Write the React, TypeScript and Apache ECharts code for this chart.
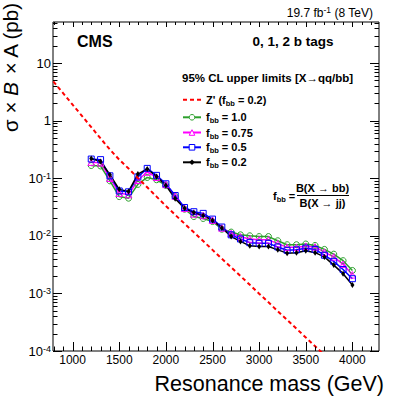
import React, { useEffect, useRef } from 'react';
import * as echarts from 'echarts';

const FONT = '"Liberation Sans", Arial, Helvetica, sans-serif';

// Resonance mass points (GeV)
const masses = [1200, 1300, 1400, 1500, 1600, 1700, 1800, 1900, 2000, 2100, 2200, 2300, 2400, 2500, 2600, 2700, 2800, 2900, 3000, 3100, 3200, 3300, 3400, 3500, 3600, 3700, 3800, 3900, 4000];

// 95% CL upper limits (pb)
const limitFbb10 = [0.166, 0.163, 0.090, 0.048, 0.045, 0.078, 0.103, 0.094, 0.075, 0.048, 0.029, 0.0216, 0.020, 0.0177, 0.013, 0.0116, 0.0104, 0.0100, 0.0097, 0.0097, 0.0082, 0.0070, 0.0070, 0.0072, 0.0068, 0.0058, 0.0048, 0.0037, 0.0025];
const limitFbb075 = [0.19, 0.185, 0.10, 0.055, 0.052, 0.092, 0.128, 0.104, 0.078, 0.049, 0.030, 0.024, 0.0225, 0.0187, 0.0137, 0.0110, 0.0096, 0.0088, 0.0085, 0.0085, 0.0073, 0.0063, 0.0063, 0.0066, 0.0064, 0.0052, 0.0043, 0.0032, 0.0021];
const limitFbb05 = [0.215, 0.21, 0.11, 0.060, 0.058, 0.105, 0.148, 0.112, 0.080, 0.050, 0.031, 0.0262, 0.0245, 0.0195, 0.0142, 0.0104, 0.0088, 0.0076, 0.0074, 0.0074, 0.0064, 0.0056, 0.0057, 0.0061, 0.0058, 0.0046, 0.0036, 0.0026, 0.0018];
const limitFbb02 = [0.22, 0.195, 0.115, 0.064, 0.059, 0.118, 0.145, 0.107, 0.075, 0.044, 0.030, 0.0254, 0.0225, 0.0185, 0.0137, 0.0097, 0.0080, 0.0067, 0.0065, 0.0065, 0.0057, 0.0050, 0.0051, 0.0055, 0.0051, 0.0043, 0.0031, 0.0022, 0.0014];

// Z' theory cross section (pb)
const zpMasses = [700, 800, 900, 1000, 1100, 1200, 1300, 1400, 1500, 1600, 1700, 1800, 1900, 2000, 2100, 2200, 2300, 2400, 2500, 2600, 2700, 2800, 2900, 3000, 3100, 3200, 3300, 3400, 3500, 3600, 3700];
const zpXsec = [7.4, 4.66, 2.97, 1.89, 1.21, 0.77, 0.49, 0.315, 0.21, 0.147, 0.101, 0.0695, 0.0479, 0.033, 0.0231, 0.0163, 0.0115, 0.0081, 0.0057, 0.0040, 0.00283, 0.0020, 0.00141, 0.00099, 0.0007, 0.00049, 0.000347, 0.000244, 0.000172, 0.000121, 0.000085];

// Axis ticks
const xMajorTicks = [1000, 1500, 2000, 2500, 3000, 3500, 4000];
const xMinorTicks = [800, 900, 1100, 1200, 1300, 1400, 1600, 1700, 1800, 1900, 2100, 2200, 2300, 2400, 2600, 2700, 2800, 2900, 3100, 3200, 3300, 3400, 3600, 3700, 3800, 3900, 4100, 4200];
const yDecades = [0.0001, 0.001, 0.01, 0.1, 1, 10];

const X_MIN = 790;
const X_MAX = 4285;
const Y_MIN = 0.0001;
const Y_MAX = 51.5;

const NAME_ZP = "Z' (f_bb = 0.2)";
const NAME_10 = 'f_bb = 1.0';
const NAME_075 = 'f_bb = 0.75';
const NAME_05 = 'f_bb = 0.5';
const NAME_02 = 'f_bb = 0.2';

const COLORS: Record<string, string> = {
  [NAME_ZP]: '#ff0000',
  [NAME_10]: '#2ca02c',
  [NAME_075]: '#ff00ff',
  [NAME_05]: '#0000ff',
  [NAME_02]: '#000000',
};

const legendRows = [
  { name: NAME_ZP, center: 101.7 },
  { name: NAME_10, center: 119.3 },
  { name: NAME_075, center: 134.5 },
  { name: NAME_05, center: 149.3 },
  { name: NAME_02, center: 164.3 },
];

function legendFormatter(name: string) {
  if (name === NAME_ZP) return "{t|Z' (f}{s|bb}{t| = 0.2)}";
  const v = name.split('= ')[1];
  return `{t|f}{s|bb}{t| = ${v}}`;
}

function legendItemStyle(name: string) {
  const c = COLORS[name];
  if (name === NAME_ZP) return { color: 'rgba(0,0,0,0)', borderColor: 'rgba(0,0,0,0)', borderWidth: 0 };
  if (name === NAME_02) return { color: c, borderColor: c, borderWidth: 0 };
  return { color: '#ffffff', borderColor: c, borderWidth: 1 };
}

function limitSeries(name: string, values: number[], symbol: string, size: any, filled: boolean) {
  const color = COLORS[name];
  return {
    type: 'line',
    name,
    data: masses.map((m, i) => [m, values[i]]),
    symbol,
    symbolSize: size,
    showSymbol: true,
    lineStyle: { color, width: 1.5 },
    itemStyle: filled
      ? { color, borderColor: color, borderWidth: 0 }
      : { color: 'rgba(255,255,255,0)', borderColor: color, borderWidth: 1 },
    z: 3,
  };
}

export default function App() {
  const ref = useRef<HTMLDivElement>(null);

  useEffect(() => {
    const chart = echarts.init(ref.current!, null, { renderer: 'svg' });

    const tickSeries = {
      type: 'custom',
      coordinateSystem: 'cartesian2d',
      silent: true,
      clip: false,
      z: 20,
      data: [[X_MIN, Y_MIN]],
      renderItem: (_params: any, api: any) => {
        const children: any[] = [];
        const bl = api.coord([X_MIN, Y_MIN]);
        const tr = api.coord([X_MAX, Y_MAX]);
        const left = bl[0], bottom = bl[1], right = tr[0], top = tr[1];
        const st = { stroke: '#000', lineWidth: 1 };
        const ln = (x1: number, y1: number, x2: number, y2: number) =>
          children.push({ type: 'line', shape: { x1, y1, x2, y2 }, style: st });
        xMajorTicks.forEach((v) => {
          const x = Math.round(api.coord([v, Y_MIN])[0]) + 0.5;
          ln(x, bottom, x, bottom - 9);
          ln(x, top, x, top + 5);
        });
        xMinorTicks.forEach((v) => {
          const x = Math.round(api.coord([v, Y_MIN])[0]) + 0.5;
          ln(x, bottom, x, bottom - 4.5);
          ln(x, top, x, top + 3);
        });
        yDecades.forEach((d) => {
          const y = Math.round(api.coord([X_MIN, d])[1]) + 0.5;
          ln(left, y, left + 9, y);
          ln(right, y, right - 9, y);
          for (let k = 2; k <= 9; k++) {
            const v = k * d;
            if (v > Y_MAX) continue;
            const yy = Math.round(api.coord([X_MIN, v])[1]) + 0.5;
            ln(left, yy, left + 4.5, yy);
            ln(right, yy, right - 4.5, yy);
          }
        });
        return { type: 'group', children };
      },
    };

    const legendRich = {
      t: { fontFamily: FONT, fontWeight: 'bold', fontSize: 11, lineHeight: 15, verticalAlign: 'middle', color: '#000' },
      s: { fontFamily: FONT, fontWeight: 'bold', fontSize: 7.5, lineHeight: 6, verticalAlign: 'bottom', color: '#000' },
    };

    const option: any = {
      animation: false,
      backgroundColor: '#fff',
      grid: {
        left: 53,
        right: 20,
        top: 22,
        bottom: 53,
        show: true,
        borderColor: '#000',
        borderWidth: 1,
        backgroundColor: 'transparent',
        containLabel: false,
      },
      xAxis: {
        type: 'value',
        min: X_MIN,
        max: X_MAX,
        splitNumber: 7,
        axisLine: { show: false },
        axisTick: { show: false },
        splitLine: { show: false },
        axisLabel: {
          showMinLabel: false,
          showMaxLabel: false,
          margin: 3,
          fontFamily: FONT,
          fontSize: 12,
          color: '#000',
          formatter: (v: number) => (v % 500 === 0 ? String(v) : ''),
        },
      },
      yAxis: {
        type: 'log',
        logBase: 10,
        min: Y_MIN,
        max: Y_MAX,
        axisLine: { show: false },
        axisTick: { show: false },
        splitLine: { show: false },
        minorTick: { show: false },
        axisLabel: {
          showMaxLabel: false,
          margin: 2,
          formatter: (v: number) => {
            const e = Math.round(Math.log10(v));
            if (e === 0) return '{b|1}';
            if (e === 1) return '{b|10}';
            return `{b|10}{s|${e}}`;
          },
          rich: {
            b: { fontFamily: FONT, fontSize: 13, color: '#000', lineHeight: 14, verticalAlign: 'middle' },
            s: { fontFamily: FONT, fontSize: 9, color: '#000', lineHeight: 6, verticalAlign: 'top' },
          },
        },
      },
      legend: legendRows.map((r) => ({
        data: [r.name],
        left: 182,
        top: r.center - 7.5,
        orient: 'vertical',
        padding: 0,
        itemWidth: 18,
        itemHeight: 7,
        itemGap: 0,
        selectedMode: false,
        formatter: legendFormatter,
        textStyle: { rich: legendRich },
        itemStyle: legendItemStyle(r.name),
      })),
      series: [
        limitSeries(NAME_10, limitFbb10, 'circle', 6, false),
        limitSeries(NAME_075, limitFbb075, 'triangle', 6.5, false),
        limitSeries(NAME_05, limitFbb05, 'rect', 6, false),
        limitSeries(NAME_02, limitFbb02, 'diamond', [4, 6], true),
        {
          type: 'line',
          name: NAME_ZP,
          data: zpMasses.map((m, i) => [m, zpXsec[i]]),
          symbol: 'none',
          showSymbol: false,
          lineStyle: { color: COLORS[NAME_ZP], width: 2, type: [4, 3] },
          itemStyle: { color: COLORS[NAME_ZP] },
          z: 5,
        },
        tickSeries,
      ],
      graphic: [
        {
          type: 'text',
          x: 373,
          y: 12.7,
          style: {
            text: '{a|19.7 fb}{s|-1}{a| (8 TeV)}',
            align: 'right',
            verticalAlign: 'middle',
            rich: {
              a: { fontFamily: FONT, fontSize: 12, fill: '#000', lineHeight: 14, verticalAlign: 'middle' },
              s: { fontFamily: FONT, fontSize: 8.5, fill: '#000', lineHeight: 6, verticalAlign: 'top' },
            },
          },
        },
        {
          type: 'text',
          x: 77,
          y: 41.7,
          style: { text: 'CMS', fontFamily: FONT, fontWeight: 'bold', fontSize: 16, fill: '#000', align: 'left', verticalAlign: 'middle' },
        },
        {
          type: 'text',
          x: 333.5,
          y: 41.7,
          style: { text: '0, 1, 2 b tags', fontFamily: FONT, fontWeight: 'bold', fontSize: 13.5, fill: '#000', align: 'right', verticalAlign: 'middle' },
        },
        {
          type: 'text',
          x: 182,
          y: 78.3,
          style: { text: '95% CL upper limits [X→qq/bb]', fontFamily: FONT, fontWeight: 'bold', fontSize: 11.5, fill: '#000', align: 'left', verticalAlign: 'middle' },
        },
        {
          type: 'text',
          x: 273,
          y: 196,
          style: {
            text: '{t|f}{s|bb}{t| =}',
            align: 'left',
            verticalAlign: 'middle',
            rich: {
              t: { fontFamily: FONT, fontWeight: 'bold', fontSize: 11, fill: '#000', lineHeight: 15, verticalAlign: 'middle' },
              s: { fontFamily: FONT, fontWeight: 'bold', fontSize: 7.5, fill: '#000', lineHeight: 6, verticalAlign: 'bottom' },
            },
          },
        },
        {
          type: 'text',
          x: 322.5,
          y: 188,
          style: { text: 'B(X → bb)', fontFamily: FONT, fontWeight: 'bold', fontSize: 11, fill: '#000', align: 'center', verticalAlign: 'middle' },
        },
        {
          type: 'line',
          shape: { x1: 297, y1: 195.5, x2: 349, y2: 195.5 },
          style: { stroke: '#000', lineWidth: 1 },
        },
        {
          type: 'text',
          x: 322.5,
          y: 203,
          style: { text: 'B(X → jj)', fontFamily: FONT, fontWeight: 'bold', fontSize: 11, fill: '#000', align: 'center', verticalAlign: 'middle' },
        },
        {
          type: 'text',
          x: 384,
          y: 383.5,
          style: { text: 'Resonance mass (GeV)', fontFamily: FONT, fontSize: 21.5, fill: '#000', align: 'right', verticalAlign: 'middle' },
        },
        {
          type: 'text',
          x: 10.5,
          y: 3,
          rotation: Math.PI / 2,
          style: {
            text: '{n|σ × }{i|B}{n| × A (pb)}',
            align: 'right',
            verticalAlign: 'middle',
            rich: {
              n: { fontFamily: FONT, fontSize: 20.5, fill: '#000', lineHeight: 23 },
              i: { fontFamily: FONT, fontSize: 20.5, fontStyle: 'italic', fill: '#000', lineHeight: 23 },
            },
          },
        },
      ],
    };

    chart.setOption(option);
    return () => chart.dispose();
  }, []);

  return (
    <div
      ref={ref}
      style={{ position: 'absolute', left: 0, top: 0, width: 399, height: 404, background: '#fff' }}
    />
  );
}
